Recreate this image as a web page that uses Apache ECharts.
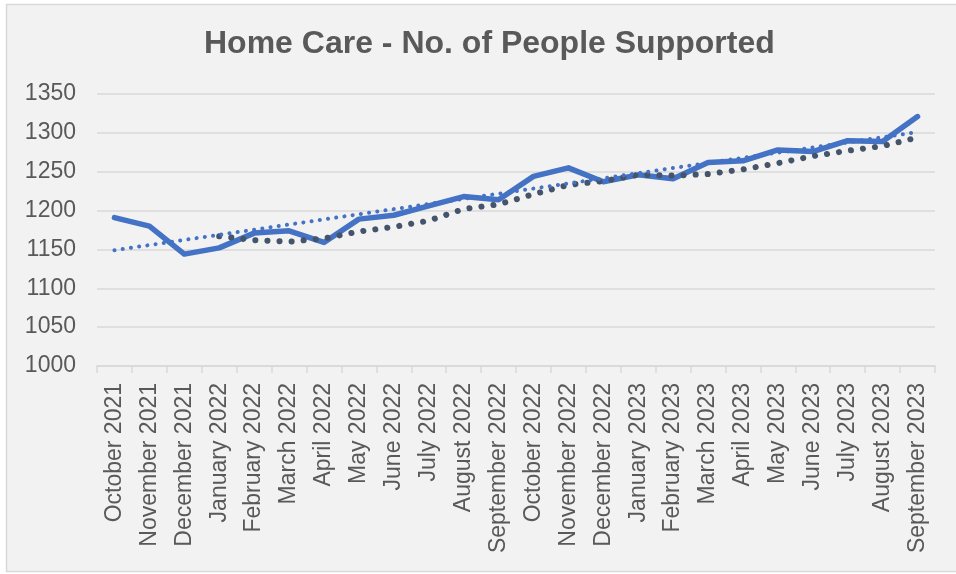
<!DOCTYPE html>
<html>
<head>
<meta charset="utf-8">
<script src="https://cdn.jsdelivr.net/npm/echarts@6/dist/echarts.min.js"></script>
<style>
html,body{margin:0;padding:0;background:#fff;}
#c{width:956px;height:574px;}
</style>
</head>
<body>
<div id="c"></div>
<script>
const categories = ["October 2021","November 2021","December 2021","January 2022","February 2022","March 2022","April 2022","May 2022","June 2022","July 2022","August 2022","September 2022","October 2022","November 2022","December 2022","January 2023","February 2023","March 2023","April 2023","May 2023","June 2023","July 2023","August 2023","September 2023"];
const peopleSupported = [1191,1180,1144,1152,1171,1174,1159,1189,1194,1206,1218,1214,1244,1255,1237,1246,1241,1262,1264,1278,1276,1290,1289,1321];
// 4-period moving average trendline
const movingAverage = [null,null,null,1167,1162,1160,1164,1173,1179,1187,1202,1208,1221,1233,1238,1246,1245,1247,1253,1261,1270,1277,1283,1294];
// linear trendline end points
const linearTrendStart = 1149;
const linearTrendEnd = 1301;
const yTicks = {min:1000, max:1350, interval:50};
const titleText = "Home Care - No. of People Supported";

const chart = echarts.init(document.getElementById('c'), null, {renderer:'canvas'});
const font = "Liberation Sans, Arial, sans-serif";
chart.setOption({
  backgroundColor: '#ffffff',
  animation: false,
  graphic: [{
    type: 'rect', z: -10, silent: true,
    shape: {x: 6.5, y: 4.5, width: 960, height: 567},
    style: {fill: '#F2F2F2', stroke: '#D9D9D9', lineWidth: 1.5}
  }],
  title: {
    text: titleText,
    left: 204,
    top: 28,
    padding: 0,
    textStyle: {fontFamily: font, fontSize: 32, fontWeight: 'bold', color: '#595959'}
  },
  grid: {left: 97, right: 21, top: 94, bottom: 208, containLabel: false},
  xAxis: {
    type: 'category',
    data: categories,
    boundaryGap: true,
    axisLine: {show: true, lineStyle: {color: '#D9D9D9', width: 1.5}},
    axisTick: {show: true, length: 7, lineStyle: {color: '#D9D9D9', width: 1.5}, alignWithLabel: false},
    axisLabel: {rotate: 90, interval: 0, margin: 17, fontFamily: font, fontSize: 23, color: '#595959'},
    splitLine: {show: false}
  },
  yAxis: {
    type: 'value',
    min: yTicks.min, max: yTicks.max, interval: yTicks.interval,
    axisLine: {show: false},
    axisTick: {show: false},
    axisLabel: {margin: 21, fontFamily: font, fontSize: 23, color: '#595959', formatter: v => String(v)},
    splitLine: {lineStyle: {color: '#D9D9D9', width: 1.5}}
  },
  series: [
    {
      name: 'People Supported',
      type: 'line',
      data: peopleSupported,
      symbol: 'none',
      lineStyle: {color: '#4472C4', width: 5.5, cap: 'round', join: 'round'},
      z: 2
    },
    {
      name: '4 per. Mov. Avg.',
      type: 'line',
      data: movingAverage,
      symbol: 'none',
      connectNulls: false,
      lineStyle: {color: '#44546A', width: 6, type: [0.1, 12], cap: 'round'},
      z: 3
    },
    {
      name: 'Linear',
      type: 'line',
      data: [[0, linearTrendStart], [categories.length - 1, linearTrendEnd]],
      symbol: 'none',
      lineStyle: {color: '#4472C4', width: 4, type: [0.1, 8.2], cap: 'round'},
      z: 4
    }
  ]
});
</script>
</body>
</html>
